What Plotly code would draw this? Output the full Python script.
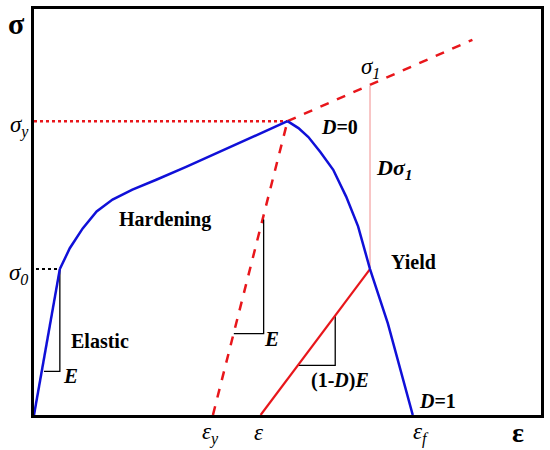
import plotly.graph_objects as go

# --- data (schematic units: strain on x, stress on y) ---
elastic_x = [0, 26]
elastic_y = [0, 147]
harden_x = [26, 36, 49, 63, 79, 99, 123, 153, 255]
harden_y = [147, 168, 188, 205, 217, 227, 237, 250, 296]
soften_x = [255, 266, 276, 288, 301, 314, 326, 338, 356, 381]
soften_y = [296, 289, 280, 265, 247, 220, 190, 147, 92, 0]
unload_x = [180, 255]
unload_y = [0, 296]
extrap_x = [255, 441]
extrap_y = [296, 378]
damaged_x = [228, 338]
damaged_y = [0, 147]
sigma1_x = [338, 338]
sigma1_y = [147, 332]
sigy_x = [0, 255]
sigy_y = [296, 296]
sig0_x = [2, 26]
sig0_y = [147, 147]
tri1_x = [10, 26, 26]
tri1_y = [44, 44, 147]
tri2_x = [201, 231, 231]
tri2_y = [82, 82, 197]
tri3_x = [266, 303, 303]
tri3_y = [50, 50, 100]

XMAX, YMAX = 510, 409

fig = go.Figure()

def line(x, y, color, width, dash="solid"):
    fig.add_trace(go.Scatter(x=x, y=y, mode="lines", showlegend=False, hoverinfo="skip",
                             line=dict(color=color, width=width, dash=dash)))

line(sigy_x, sigy_y, "#e8161b", 2.5, "dot")
line(sig0_x, sig0_y, "black", 2, "dot")
line(unload_x, unload_y, "#e8161b", 2.5, "dash")
line(extrap_x, extrap_y, "#e8161b", 2.5, "dash")
line(sigma1_x, sigma1_y, "#f4a0a0", 1.2)
line(tri1_x, tri1_y, "black", 1.3)
line(tri2_x, tri2_y, "black", 1.3)
line(tri3_x, tri3_y, "black", 1.3)
line(damaged_x, damaged_y, "#e8161b", 2.2)
line(elastic_x, elastic_y, "#1010d8", 2.5)
line(harden_x, harden_y, "#1010d8", 2.5)
line(soften_x, soften_y, "#1010d8", 2.5)

SERIF = "Liberation Serif"

def txt(px, py, text, size=20, bold=True, italic=False):
    t = text
    if italic:
        t = "<i>" + t + "</i>"
    if bold:
        t = "<b>" + t + "</b>"
    # pixel position -> paper coordinates of the plot area
    fig.add_annotation(x=(px - 34) / XMAX, y=(415 - py) / YMAX, text=t, showarrow=False,
                       xref="paper", yref="paper", xanchor="center", yanchor="middle",
                       borderpad=0,
                       font=dict(family=SERIF, size=size, color="black"))

txt(16, 21, "σ", size=30, bold=True)
txt(19, 124, "σ<sub>y</sub>", size=23, bold=False, italic=True)
txt(18, 273, "σ<sub>0</sub>", size=23, bold=False, italic=True)
txt(212, 434, "ε<sub>y</sub>", size=23, bold=False, italic=True)
txt(260, 433, "ε", size=23, bold=False, italic=True)
txt(423, 434, "ε<sub>f</sub>", size=23, bold=False, italic=True)
txt(521, 433, "ε", size=28, bold=True)
txt(372, 65, "σ<sub>1</sub>", size=23, bold=False, italic=True)
txt(396, 167, "Dσ<sub>1</sub>", size=22, bold=True, italic=True)
txt(341, 125, "<i>D</i>=0", size=20)
txt(416, 261, "Yield", size=20)
txt(440, 401, "<i>D</i>=1", size=20)
txt(342, 380, "(1-<i>D</i>)<i>E</i>", size=20)
txt(273, 338, "E", size=21, italic=True)
txt(71, 376, "E", size=21, italic=True)
txt(100, 340, "Elastic", size=20)
txt(166, 218, "Hardening", size=20)

axis_common = dict(showgrid=False, zeroline=False, showticklabels=False, ticks="",
                   showline=True, linecolor="black", linewidth=3, mirror=True)
fig.update_layout(
    width=550, height=450,
    margin=dict(l=34, r=6, t=6, b=35),
    paper_bgcolor="white", plot_bgcolor="white",
    xaxis=dict(range=[0, XMAX], **axis_common),
    yaxis=dict(range=[0, YMAX], **axis_common),
)

fig.write_html("out.html", config={"displayModeBar": False},
               post_script="document.body.style.margin='0';")
